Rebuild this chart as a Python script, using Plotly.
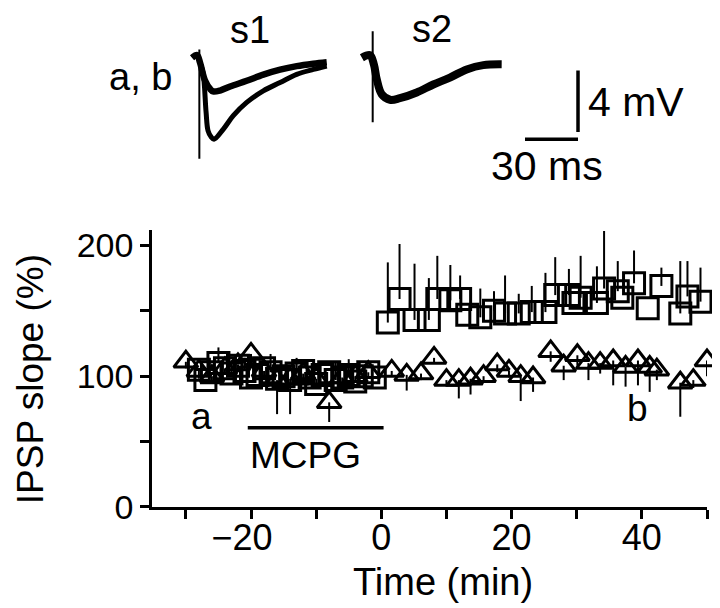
import plotly.graph_objects as go

# ---------------- main plot data ----------------
# squares (one-sided upward SEM)
SQ_T = [-28, -27, -26, -25, -24, -23, -22, -21, -20, -19, -18, -17, -16, -15, -14,
        -13, -12, -11, -10, -9, -8, -7, -6, -5, -4, -3, -2, -1,
        1.0, 2.8, 5.1, 7.3, 8.6, 10.6, 12.1, 13.2, 15.2, 17.3, 19.0, 21.1, 23.1,
        25.2, 26.7, 28.8, 29.5, 30.6, 33.1, 34.2, 36.3, 37.0, 38.8, 40.9, 43.0,
        45.9, 47.0, 49.0]
SQ_V = [105, 97, 103, 110, 106, 102, 108, 104, 99, 101, 106, 103, 98, 100, 97,
        102, 104, 99, 94, 101, 103, 97, 99, 101, 96, 100, 103, 99,
        141, 159, 143, 143, 159, 158, 159, 147, 145, 150, 148, 148, 149,
        149, 162, 162, 156, 160, 156, 167, 165, 160, 171, 152, 169,
        148, 161, 157]
SQ_UP = [0, 0, 0, 12, 0, 10, 0, 10, 0, 0, 0, 14, 0, 0, 0,
         12, 0, 0, 0, 0, 0, 14, 0, 12, 0, 0, 0, 0,
         46, 42, 43, 32, 33, 27, 18, 0, 22, 15, 29, 15, 20,
         30, 29, 20, 0, 32, 28, 44, 23, 0, 25, 0, 14,
         40, 27, 26]

# triangles (one-sided downward SEM)
TRI_T = [-30, -28, -26, -24, -22, -20, -18, -16, -14, -12, -10, -8, -6, -4, -2,
         1.6, 3.9, 6.1, 8.1, 10.0, 11.9, 13.7, 15.7, 17.8, 19.6, 21.4, 23.3,
         26.0, 28.0, 30.1, 31.8, 33.6, 35.6, 37.5, 39.4, 41.2, 42.3, 45.9, 47.9, 50.0]
TRI_V = [111, 104, 100, 106, 109, 117, 104, 97, 98, 102, 98, 80, 99, 100, 103,
         104, 101, 102, 114, 97, 97, 98, 100, 109, 104, 100, 99,
         119, 108, 116, 110, 110, 112, 107, 112, 107, 105, 95, 97, 112]
TRI_DN = [5, 6, 5, 4, 6, 8, 6, 26, 27, 8, 6, 15, 6, 5, 5,
          4, 12, 5, 4, 5, 14, 12, 5, 6, 5, 19, 11,
          8, 11, 8, 13, 8, 19, 15, 19, 19, 8, 26, 6, 12]

X_TICKS = [-30, -20, -10, 0, 10, 20, 30, 40, 50]
# en-space after "−20" keeps the digits centred on the tick, as in the original
X_TICKTEXT = ["", "\u221220\u2002", "", "0", "", "20", "", "40", ""]
Y_TICKS = [0, 50, 100, 150, 200]
Y_TICKTEXT = ["0", "", "100", "", "200"]

# ---------------- inset traces (ms, mV) ----------------
S1_B_T = [-4.1, -1.3, 0.4, 3.2, 6.1, 7.8, 11.7, 17.4, 26.8, 36.2, 45.7, 55.1, 64.5, 72.1]
S1_B_V = [0.13, 0.3, -0.2, -1.35, -1.9, -2.06, -2.0, -1.74, -1.37, -0.97, -0.65, -0.42, -0.26, -0.16]
S1_A_T = [-4.1, -1.3, 0.4, 2.1, 3.8, 4.9, 6.6, 8.3, 13.6, 19.2, 26.8, 36.2, 45.7, 55.1, 64.5, 72.1]
S1_A_V = [0.13, 0.3, -0.2, -0.84, -3.4, -4.6, -5.0, -5.16, -4.5, -3.63, -2.77, -2.02, -1.48, -0.95, -0.63, -0.41]
S1_ART_V = [0.66, -6.43]
S2_T = [-6.1, -1.5, 0.7, 2.3, 5.1, 9.8, 15.4, 24.9, 34.3, 43.7, 53.2, 62.6, 73.0]
S2_V = [0.13, 0.3, -0.32, -1.27, -2.24, -2.6, -2.5, -2.13, -1.61, -1.16, -0.63, -0.35, -0.3]
S2_ART_V = [1.85, -4.06]
S2_OFFSET_MS = 98.1

FONT = "Liberation Sans, Arial, Helvetica, sans-serif"
BLACK = "#000000"

fig = go.Figure()

fig.add_trace(go.Scatter(
    x=SQ_T, y=SQ_V, mode="markers", cliponaxis=False,
    marker=dict(symbol="square-open", size=21, color=BLACK, line=dict(width=3, color=BLACK)),
    error_y=dict(type="data", symmetric=False, array=SQ_UP, arrayminus=[0] * len(SQ_UP),
                 color=BLACK, thickness=2, width=0),
    xaxis="x", yaxis="y", showlegend=False))

fig.add_trace(go.Scatter(
    x=TRI_T, y=TRI_V, mode="markers", cliponaxis=False,
    marker=dict(symbol="triangle-up-open", size=21, color=BLACK, line=dict(width=3, color=BLACK)),
    error_y=dict(type="data", symmetric=False, array=[0] * len(TRI_DN), arrayminus=TRI_DN,
                 color=BLACK, thickness=2, width=0),
    xaxis="x", yaxis="y", showlegend=False))

# inset traces
fig.add_trace(go.Scatter(x=S1_B_T, y=S1_B_V, mode="lines", line=dict(color=BLACK, width=6.5, shape="spline"),
                         xaxis="x2", yaxis="y2", showlegend=False))
fig.add_trace(go.Scatter(x=S1_A_T, y=S1_A_V, mode="lines", line=dict(color=BLACK, width=5, shape="spline"),
                         xaxis="x2", yaxis="y2", showlegend=False))
fig.add_trace(go.Scatter(x=[0, 0], y=S1_ART_V, mode="lines", line=dict(color=BLACK, width=2),
                         xaxis="x2", yaxis="y2", showlegend=False))
fig.add_trace(go.Scatter(x=[t + S2_OFFSET_MS for t in S2_T], y=S2_V, mode="lines",
                         line=dict(color=BLACK, width=8, shape="spline"),
                         xaxis="x2", yaxis="y2", showlegend=False))
fig.add_trace(go.Scatter(x=[S2_OFFSET_MS, S2_OFFSET_MS], y=S2_ART_V, mode="lines",
                         line=dict(color=BLACK, width=2),
                         xaxis="x2", yaxis="y2", showlegend=False))

shapes = [
    # MCPG application bar
    dict(type="line", xref="x", yref="y", x0=-20.5, x1=0.35, y0=60.6, y1=60.6,
         line=dict(color=BLACK, width=3.5)),
    # small overhang of x axis left of y axis
    dict(type="line", xref="paper", yref="y", x0=-0.017, x1=0, y0=0, y1=0,
         line=dict(color=BLACK, width=2.5)),
    # scale bars (30 ms, 4 mV)
    dict(type="line", xref="x2", yref="y2", x0=184.3, x1=214.3, y0=-5.16, y1=-5.16,
         line=dict(color=BLACK, width=3.5)),
    dict(type="line", xref="x2", yref="y2", x0=214.3, x1=214.3, y0=-4.7, y1=-0.7,
         line=dict(color=BLACK, width=3.5)),
]

ann = [
    dict(text="a", x=-27.6, y=69, xref="x", yref="y", font=dict(size=37)),
    dict(text="b", x=39.4, y=75, xref="x", yref="y", font=dict(size=37)),
    dict(text="MCPG", x=-11.7, y=39.5, xref="x", yref="y", font=dict(size=37)),
    dict(text="IPSP slope (%)", x=-0.219, y=0.2585, xref="paper", yref="paper",
         textangle=-90, font=dict(size=37)),
    dict(text="Time (min)", x=0.524, y=-0.1503, xref="paper", yref="paper", font=dict(size=38)),
    dict(text="a, b", x=-0.0216, y=0.8677, xref="paper", yref="paper", font=dict(size=38)),
    dict(text="s1", x=28.7, y=1.94, xref="x2", yref="y2", font=dict(size=38)),
    dict(text="s2", x=131.5, y=2.0, xref="x2", yref="y2", font=dict(size=38)),
    dict(text="4 mV", x=247.1, y=-2.77, xref="x2", yref="y2", font=dict(size=41)),
    dict(text="30 ms", x=196.8, y=-6.9, xref="x2", yref="y2", font=dict(size=41)),
]
for a in ann:
    a.update(showarrow=False, xanchor="center", yanchor="middle")
    a["font"].update(family=FONT, color=BLACK)

# the page body adds an 8px offset, so the figure is 712x600 and all pixel
# positions are measured relative to that offset
fig.update_layout(
    width=712, height=600,
    margin=dict(l=144, r=13, t=0, b=101, pad=0),
    paper_bgcolor="white", plot_bgcolor="white",
    font=dict(family=FONT, color=BLACK),
    xaxis=dict(domain=[0, 1], range=[-35.2, 50], anchor="y",
               showline=True, linewidth=2.5, linecolor=BLACK,
               ticks="outside", ticklen=9, tickwidth=2.5, tickcolor=BLACK,
               tickmode="array", tickvals=X_TICKS, ticktext=X_TICKTEXT,
               tickfont=dict(size=36, family=FONT, color=BLACK),
               ticklabelstandoff=-12,
               showgrid=False, zeroline=False, fixedrange=True),
    yaxis=dict(domain=[0, 0.5591], range=[0, 212], anchor="x",
               showline=True, linewidth=2.5, linecolor=BLACK,
               ticks="outside", ticklen=9, tickwidth=2.5, tickcolor=BLACK,
               tickmode="array", tickvals=Y_TICKS, ticktext=Y_TICKTEXT,
               tickfont=dict(size=34, family=FONT, color=BLACK),
               showgrid=False, zeroline=False, fixedrange=True),
    xaxis2=dict(domain=[0, 1], range=[-26.8, 287.3], anchor="y2", visible=False, fixedrange=True),
    yaxis2=dict(domain=[0.6, 1], range=[-9.716, 3.161], anchor="x2", visible=False, fixedrange=True),
    shapes=shapes,
    annotations=ann,
)

fig.write_html("out.html")
